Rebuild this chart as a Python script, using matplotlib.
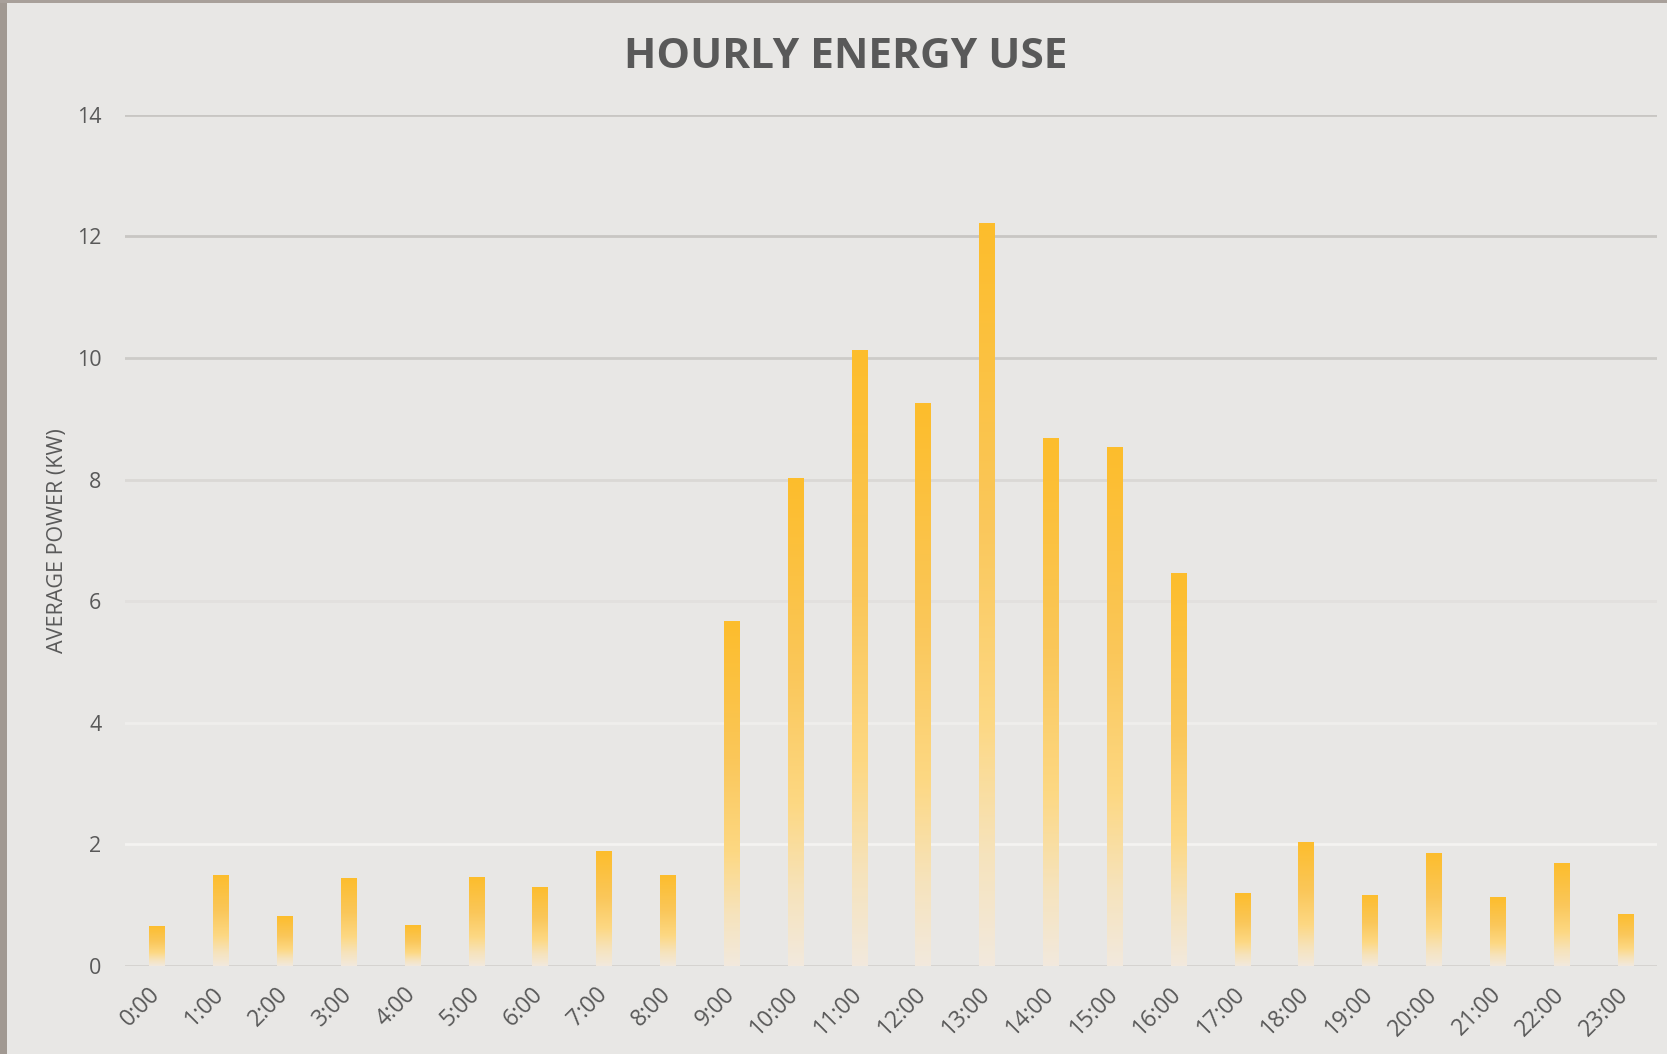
import numpy as np
import matplotlib.pyplot as plt
from matplotlib.colors import LinearSegmentedColormap
from matplotlib.patches import Rectangle

# data
hours = ["%d:00" % h for h in range(24)]
power = [0.66, 1.50, 0.82, 1.45, 0.67, 1.46, 1.30, 1.89, 1.50, 5.67, 8.02, 10.13,
         9.26, 12.22, 8.68, 8.54, 6.46, 1.20, 2.04, 1.17, 1.86, 1.13, 1.69, 0.86]
yticks = [0, 2, 4, 6, 8, 10, 12, 14]

bg = "#E8E7E5"
txt = "#595959"
plt.rcParams["font.family"] = ["Open Sans", "DejaVu Sans"]

# gradient fill, top -> bottom of each bar
cmap = LinearSegmentedColormap.from_list(
    "amber", [(0.0, "#F2E9DD"), (0.15, "#F6E3BC"), (0.33, "#FDD883"),
              (0.6, "#FAC75A"), (1.0, "#FDBD2C")])

fig = plt.figure(figsize=(16.67, 10.54), dpi=100, facecolor=bg)
ax = fig.add_axes([0.075, 0.0835, 0.919, 0.8075])
ax.set_facecolor(bg)

x = np.arange(len(hours))
bars = ax.bar(x, power, width=0.235, color="none", edgecolor="none", zorder=3)
grad = np.linspace(0, 1, 256).reshape(-1, 1)
for b in bars:
    im = ax.imshow(grad, cmap=cmap, origin="lower", aspect="auto", zorder=3,
                   extent=[b.get_x(), b.get_x() + b.get_width(), 0, b.get_height()])
    im.set_clip_path(b)

ax.set_xlim(-0.5, 23.5)
ax.set_ylim(0, 14)
ax.set_yticks(yticks)
ax.set_xticks(x)
ax.set_xticklabels(hours, rotation=45, ha="right", va="center", rotation_mode="anchor")
ax.tick_params(axis="x", length=0, pad=18, labelsize=16.5, labelcolor=txt)
ax.tick_params(axis="y", length=0, pad=17, labelsize=15.5, labelcolor=txt)
for s in ax.spines.values():
    s.set_visible(False)

# gridlines fade from grey at the top to near white at the bottom
ax.yaxis.grid(True, linewidth=2, zorder=0)
grid_cols = ["#D3D1CE", "#F4F3F1", "#EFEEEC", "#E2E0DE", "#DAD8D5", "#CDCBC8", "#C8C6C3", "#C8C6C3"]
for gl, c in zip(ax.get_ygridlines(), grid_cols):
    gl.set_color(c)
ax.set_axisbelow(True)

ax.set_ylabel("AVERAGE POWER (KW)", fontsize=15.5, color=txt, labelpad=6)
fig.text(0.5075, 0.945, "HOURLY ENERGY USE", ha="center", va="center",
         fontsize=30.5, fontweight="bold", color=txt)

# window border strips
fig.patches.append(Rectangle((0, 0), 7 / 1667, 1, transform=fig.transFigure,
                             facecolor="#A19992", edgecolor="none"))
fig.patches.append(Rectangle((0, 1 - 3 / 1054), 1, 3 / 1054, transform=fig.transFigure,
                             facecolor="#A8A09A", edgecolor="none"))

fig.savefig("out.png", dpi=100, facecolor=bg)
